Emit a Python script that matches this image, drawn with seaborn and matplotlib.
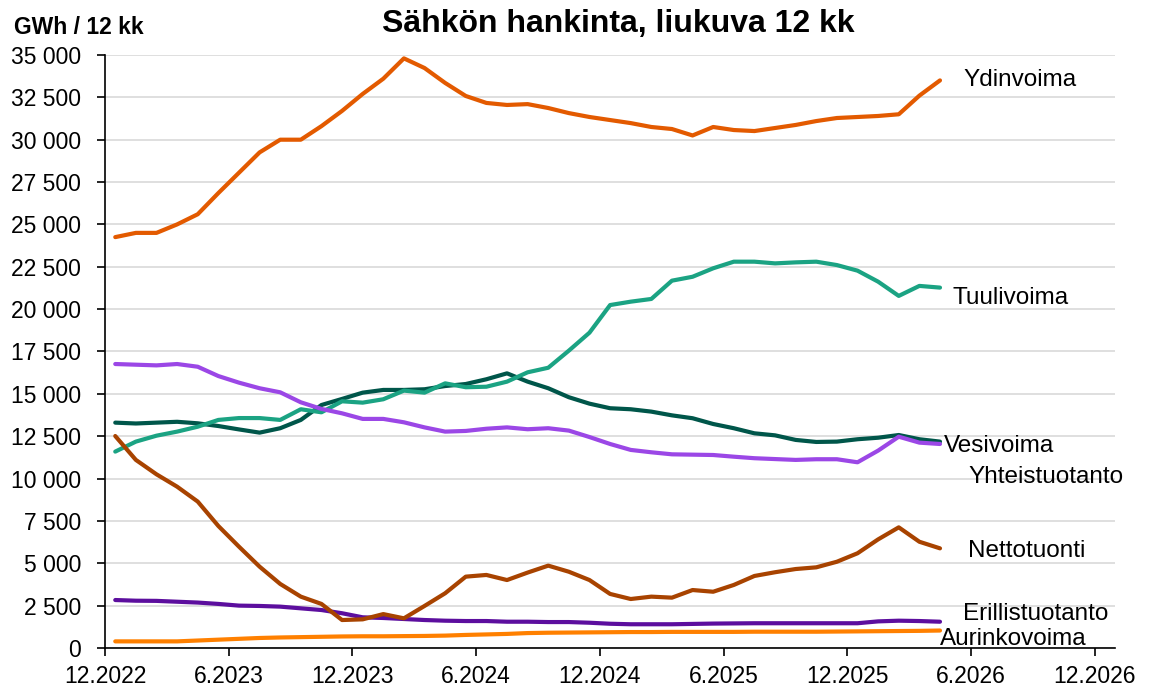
import numpy as np
import pandas as pd
import matplotlib
matplotlib.use("Agg")
import matplotlib.pyplot as plt
import seaborn as sns

# monthly values 12.2022 .. 4.2026, GWh / 12 months (rolling)
ydinvoima = [24250, 24500, 24500, 25000, 25600, 26850, 28050, 29250, 30000, 30000,
             30800, 31700, 32700, 33600, 34800, 34230, 33350, 32580, 32170, 32050,
             32100, 31870, 31570, 31340, 31160, 30980, 30750, 30630, 30250, 30750,
             30570, 30510, 30690, 30870, 31100, 31280, 31340, 31400, 31500, 32600, 33500]
vesivoima = [13300, 13250, 13300, 13350, 13260, 13100, 12900, 12710, 12970, 13460,
             14340, 14700, 15070, 15230, 15230, 15270, 15460, 15580, 15860, 16210,
             15720, 15330, 14800, 14420, 14150, 14090, 13950, 13730, 13560, 13220,
             12970, 12670, 12550, 12280, 12160, 12180, 12320, 12410, 12570, 12320, 12180]
tuulivoima = [11590, 12180, 12530, 12770, 13060, 13460, 13570, 13570, 13460, 14090,
              13910, 14560, 14480, 14680, 15190, 15070, 15620, 15390, 15420, 15720,
              16270, 16540, 17550, 18610, 20240, 20440, 20600, 21680, 21910, 22410,
              22800, 22800, 22700, 22760, 22800, 22600, 22270, 21620, 20780, 21370, 21270]
yhteistuotanto = [16760, 16720, 16680, 16760, 16600, 16050, 15660, 15330, 15090, 14500,
                  14110, 13850, 13520, 13520, 13320, 13020, 12770, 12810, 12940, 13020,
                  12910, 12970, 12830, 12450, 12040, 11690, 11550, 11430, 11410, 11390,
                  11290, 11200, 11150, 11100, 11140, 11140, 10960, 11650, 12470, 12120, 12040]
nettotuonti = [12510, 11100, 10250, 9520, 8640, 7200, 5980, 4800, 3780, 3030,
               2600, 1650, 1690, 2000, 1750, 2480, 3230, 4210, 4310, 4010,
               4450, 4860, 4500, 4010, 3190, 2890, 3030, 2970, 3420, 3320,
               3720, 4250, 4470, 4660, 4760, 5090, 5590, 6410, 7120, 6270, 5880]
erillistuotanto = [2830, 2790, 2780, 2730, 2680, 2600, 2500, 2480, 2440, 2340,
                   2240, 2050, 1810, 1770, 1710, 1650, 1610, 1590, 1590, 1550,
                   1550, 1530, 1530, 1490, 1430, 1400, 1400, 1400, 1420, 1440,
                   1450, 1460, 1460, 1460, 1460, 1460, 1460, 1570, 1610, 1590, 1550]
aurinkovoima = [390, 390, 390, 390, 440, 490, 540, 590, 620, 640,
                660, 680, 690, 690, 700, 710, 730, 770, 800, 830,
                880, 900, 910, 920, 930, 940, 940, 950, 950, 950,
                950, 960, 960, 960, 960, 970, 980, 990, 1000, 1010, 1030]

tick_labels = ["12.2022", "6.2023", "12.2023", "6.2024", "12.2024",
               "6.2025", "12.2025", "6.2026", "12.2026"]

series = {
    "Ydinvoima": ydinvoima,
    "Vesivoima": vesivoima,
    "Tuulivoima": tuulivoima,
    "Yhteistuotanto": yhteistuotanto,
    "Erillistuotanto": erillistuotanto,
    "Nettotuonti": nettotuonti,
    "Aurinkovoima": aurinkovoima,
}
colors = {
    "Ydinvoima": "#E35A00",
    "Vesivoima": "#00564A",
    "Tuulivoima": "#1BA383",
    "Yhteistuotanto": "#9B47E6",
    "Erillistuotanto": "#5C0E9E",
    "Nettotuonti": "#A84300",
    "Aurinkovoima": "#FF8000",
}
# label anchor (x in months from 12.2022, y in GWh)
label_pos = {
    "Ydinvoima": (41.65, 33500),
    "Tuulivoima": (41.1, 20650),
    "Vesivoima": (40.7, 11900),
    "Yhteistuotanto": (41.9, 10100),
    "Nettotuonti": (41.85, 5750),
    "Erillistuotanto": (41.6, 2000),
    "Aurinkovoima": (40.5, 520),
}

# category centres (between tick marks, like Excel)
x = np.arange(len(ydinvoima)) + 0.5
df = pd.concat(
    [pd.DataFrame({"x": x, "GWh": v, "laji": k}) for k, v in series.items()],
    ignore_index=True,
)

sns.set_style("white")
plt.rcParams["font.family"] = ["Liberation Sans", "DejaVu Sans"]
plt.rcParams["text.color"] = "black"
plt.rcParams["xtick.color"] = "black"
plt.rcParams["ytick.color"] = "black"

fig = plt.figure(figsize=(11.52, 6.96), dpi=100)
ax = fig.add_axes([0.0911, 0.069, 0.877, 0.852])

sns.lineplot(data=df, x="x", y="GWh", hue="laji", palette=colors,
             hue_order=list(series.keys()), linewidth=3.0, legend=False, ax=ax)

ax.set_xlim(0, 49)
ax.set_ylim(0, 35000)
ax.set_xticks(np.arange(0, 49, 6))
ax.set_xticklabels(tick_labels)
ax.set_yticks(np.arange(0, 35001, 2500))
ax.set_yticklabels([f"{v:,}".replace(",", " ") for v in range(0, 35001, 2500)])
ax.tick_params(axis="both", labelsize=16.5, length=6, width=1.2,
               direction="out", color="black", labelcolor="black",
               bottom=True, left=True)
ax.tick_params(axis="y", pad=11)
ax.tick_params(axis="x", pad=6)
ax.set_xlabel("")
ax.set_ylabel("")

ax.yaxis.grid(True, color="#d9d9d9", linewidth=1.2)
ax.xaxis.grid(False)
ax.set_axisbelow(True)
for s in ["top", "right"]:
    ax.spines[s].set_visible(False)
for s in ["left", "bottom"]:
    ax.spines[s].set_color("black")
    ax.spines[s].set_linewidth(1.2)

for name, (lx, ly) in label_pos.items():
    ax.text(lx, ly, name, fontsize=17.5, va="center", ha="left", color="black")

fig.text(0.537, 0.966, "Sähkön hankinta, liukuva 12 kk", fontsize=23,
         fontweight="bold", ha="center", va="center", color="black")
fig.text(0.012, 0.961, "GWh / 12 kk", fontsize=16.5, fontweight="bold",
         ha="left", va="center", color="black")

fig.savefig("out.png", dpi=100)
